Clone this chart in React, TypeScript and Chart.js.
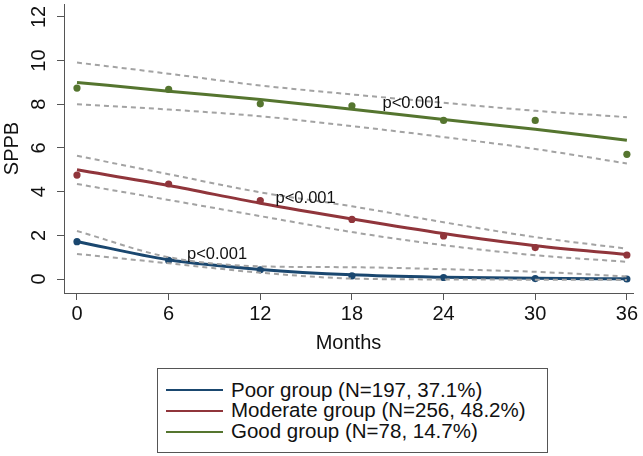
import React, { useEffect, useRef } from "react";
import { Chart, registerables } from "chart.js";

Chart.register(...registerables);

// ---- Data ----
const months = [0, 6, 12, 18, 24, 30, 36];

const poorObserved = [1.71, 0.85, 0.42, 0.14, 0.07, 0.02, 0.0];
const poorFitted = [1.72, 0.88, 0.44, 0.19, 0.08, 0.03, 0.01];
const poorUpper = [2.2, 1.0, 0.58, 0.54, 0.45, 0.33, 0.12];
const poorLower = [1.15, 0.72, 0.29, 0.02, -0.02, -0.03, -0.04];

const moderateObserved = [4.76, 4.35, 3.59, 2.73, 1.97, 1.44, 1.1];
const moderateFitted = [5.0, 4.28, 3.47, 2.75, 2.08, 1.52, 1.12];
const moderateUpper = [5.64, 4.8, 3.97, 3.33, 2.6, 1.92, 1.39];
const moderateLower = [4.35, 3.62, 2.88, 2.15, 1.55, 1.09, 0.79];

const goodObserved = [8.74, 8.68, 8.02, 7.93, 7.26, 7.26, 5.71];
const goodFitted = [9.0, 8.6, 8.22, 7.77, 7.3, 6.86, 6.35];
const goodUpper = [9.91, 9.4, 8.86, 8.45, 8.07, 7.7, 7.41];
const goodLower = [8.0, 7.76, 7.45, 7.0, 6.5, 5.95, 5.29];

const legendLabels = [
  "Poor group (N=197, 37.1%)",
  "Moderate group (N=256, 48.2%)",
  "Good group (N=78, 14.7%)",
];

const pLabelText = "p<0.001";
const pLabelMonths = [7.2, 13.0, 20.0];
const pLabelValues = [1.14, 3.68, 8.05];

const xTickStep = 6;
const yTickStep = 2;
const xTitle = "Months";
const yTitle = "SPPB";

// ---- Styles ----
const BLUE = "#1a476f";
const RED = "#90353b";
const GREEN = "#55752f";
const CI_GRAY = "#a3a3a3";
const AXIS = "#555555";
const TEXT = "#111111";
const FONT = '"Liberation Sans", Arial, sans-serif';

const toPoints = (ys: number[]) => months.map((m, i) => ({ x: m, y: ys[i] }));

const ciSet = (ys: number[]) => ({
  data: toPoints(ys),
  borderColor: CI_GRAY,
  borderWidth: 2,
  borderDash: [5, 4],
  pointRadius: 0,
  fill: false,
  cubicInterpolationMode: "monotone" as const,
});

const fitSet = (ys: number[], color: string) => ({
  data: toPoints(ys),
  borderColor: color,
  borderWidth: 3,
  pointRadius: 0,
  fill: false,
  cubicInterpolationMode: "monotone" as const,
});

const obsSet = (ys: number[], color: string) => ({
  data: toPoints(ys),
  showLine: false,
  borderColor: color,
  backgroundColor: color,
  pointBackgroundColor: color,
  pointBorderWidth: 0,
  pointRadius: 3.6,
});

const pLabelPlugin = {
  id: "pLabels",
  afterDatasetsDraw(chart: any) {
    const { ctx, scales } = chart;
    ctx.save();
    ctx.font = `16.5px ${FONT}`;
    ctx.fillStyle = TEXT;
    ctx.textAlign = "left";
    ctx.textBaseline = "middle";
    pLabelMonths.forEach((m, i) => {
      ctx.fillText(pLabelText, scales.x.getPixelForValue(m), scales.y.getPixelForValue(pLabelValues[i]));
    });
    ctx.restore();
  },
};

export default function App() {
  const canvasRef = useRef<HTMLCanvasElement | null>(null);

  useEffect(() => {
    if (!canvasRef.current) return;
    const chart = new Chart(canvasRef.current, {
      type: "line",
      data: {
        datasets: [
          ciSet(poorUpper),
          ciSet(poorLower),
          ciSet(moderateUpper),
          ciSet(moderateLower),
          ciSet(goodUpper),
          ciSet(goodLower),
          fitSet(poorFitted, BLUE),
          fitSet(moderateFitted, RED),
          fitSet(goodFitted, GREEN),
          obsSet(poorObserved, BLUE),
          obsSet(moderateObserved, RED),
          obsSet(goodObserved, GREEN),
        ] as any,
      },
      options: {
        animation: false,
        responsive: false,
        devicePixelRatio: 1,
        layout: { padding: { top: 2, right: 10, bottom: 97, left: 0 } },
        plugins: {
          legend: { display: false },
          tooltip: { enabled: false },
        },
        scales: {
          x: {
            type: "linear",
            min: -0.85,
            max: 36.4,
            ticks: {
              stepSize: xTickStep,
              includeBounds: false,
              color: TEXT,
              font: { family: FONT, size: 20 },
              padding: 2,
              maxRotation: 0,
            },
            grid: { drawOnChartArea: false, drawTicks: true, tickLength: 7, color: AXIS },
            border: { display: true, color: AXIS, width: 1 },
            title: {
              display: true,
              text: xTitle,
              color: TEXT,
              font: { family: FONT, size: 20 },
              padding: { top: 4, bottom: 4 },
            },
            afterFit: (s: any) => {
              s.height = 66;
              s.paddingLeft = 0;
              s.paddingRight = 0;
            },
          },
          y: {
            type: "linear",
            min: -0.64,
            max: 12.59,
            ticks: {
              stepSize: yTickStep,
              includeBounds: false,
              color: TEXT,
              font: { family: FONT, size: 20 },
              padding: 6,
              minRotation: 90,
              maxRotation: 90,
              crossAlign: "center",
            },
            grid: { drawOnChartArea: false, drawTicks: true, tickLength: 7, color: AXIS },
            border: { display: true, color: AXIS, width: 1 },
            title: {
              display: true,
              text: yTitle,
              color: TEXT,
              font: { family: FONT, size: 20 },
              padding: { top: 0, bottom: 0 },
            },
            afterFit: (s: any) => {
              s.width = 64;
              s.paddingTop = 0;
              s.paddingBottom = 0;
            },
          },
        },
      } as any,
      plugins: [pLabelPlugin],
    });
    return () => chart.destroy();
  }, []);

  const legendColors = [BLUE, RED, GREEN];

  return (
    <div style={{ position: "fixed", left: 0, top: 0, width: 643, height: 456, background: "#fff" }}>
      <canvas ref={canvasRef} width={643} height={456} style={{ position: "absolute", left: 0, top: 0 }} />
      <div
        style={{
          position: "absolute",
          left: 157,
          top: 368,
          width: 391,
          height: 85,
          boxSizing: "border-box",
          border: `1px solid ${AXIS}`,
          background: "#fff",
        }}
      >
        {legendLabels.map((label, i) => (
          <div
            key={label}
            style={{
              position: "absolute",
              left: 0,
              top: 10.6 + i * 20.8,
              height: 20.8,
              display: "flex",
              alignItems: "center",
              whiteSpace: "nowrap",
            }}
          >
            <div style={{ marginLeft: 8, width: 57, height: 2, background: legendColors[i] }} />
            <span
              style={{
                marginLeft: 8,
                fontFamily: FONT,
                fontSize: 20.5,
                lineHeight: "20.8px",
                color: TEXT,
              }}
            >
              {label}
            </span>
          </div>
        ))}
      </div>
    </div>
  );
}
